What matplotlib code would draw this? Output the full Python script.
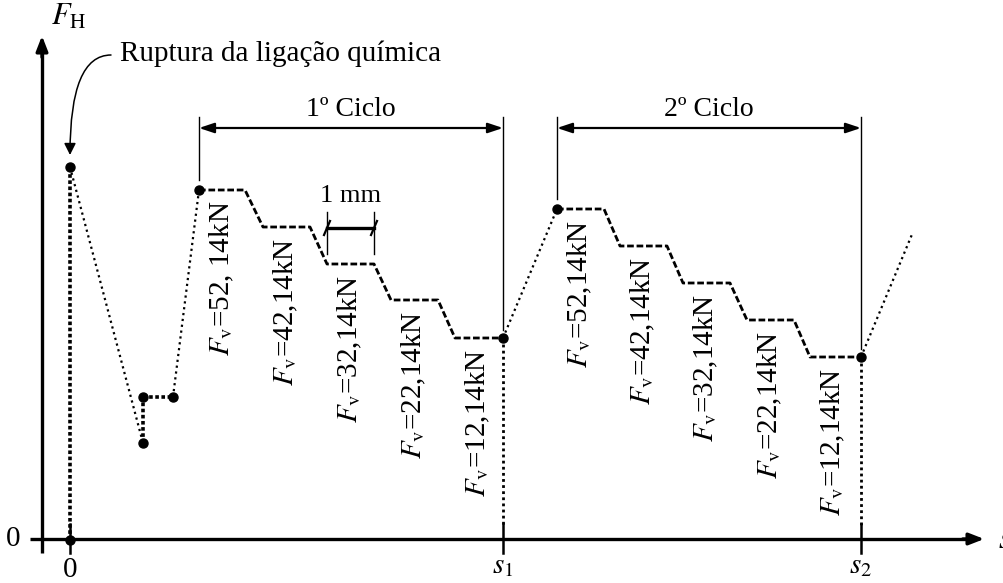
import matplotlib
matplotlib.use("Agg")
import matplotlib.pyplot as plt
from matplotlib.patches import FancyArrowPatch

plt.rcParams['font.family'] = ['Liberation Serif', 'DejaVu Serif']
plt.rcParams['mathtext.fontset'] = 'stix'

# ---- data (diagram coordinates: x = displacement, y = force, pixel-like units) ----
origin = (70, 540)
peak = (70, 167)
drop = (143, 443)
recover = [(143, 443), (143, 397), (173, 397)]
rise1 = [(173, 397), (199, 190)]

cycle1_x = [199, 245, 263, 310, 327, 374, 391, 438, 455, 503]
cycle1_y = [190, 190, 227, 227, 264, 264, 300, 300, 338, 338]
rise2 = [(503, 338), (557, 209)]
cycle2_x = [557, 604, 620, 667, 683, 730, 747, 794, 810, 861]
cycle2_y = [209, 209, 246, 246, 283, 283, 320, 320, 357, 357]
rise3 = [(861, 357), (913, 232)]

s1_x = 503
s2_x = 861

labels1 = ["52, 14kN", "42,14kN", "32,14kN", "22,14kN", "12,14kN"]
labels2 = ["52,14kN", "42,14kN", "32,14kN", "22,14kN", "12,14kN"]

# ---- figure ----
fig = plt.figure(figsize=(10.04, 5.83), dpi=100)
ax = fig.add_axes([0, 0, 1, 1])
ax.set_xlim(0, 1004)
ax.set_ylim(583, 0)
ax.set_axis_off()

FS = 20
dot_kw = dict(color='black', linestyle=':', linewidth=1.6)
thick_dot = dict(color='black', linestyle=(0, (1, 0.7)), linewidth=2.6)
dash_kw = dict(color='black', linestyle=(0, (2.4, 1.0)), linewidth=2.0)

# axes
ax.plot([42, 42], [553, 50], color='black', lw=2.4, solid_capstyle='butt')
ax.annotate('', xy=(42, 33), xytext=(42, 60),
            arrowprops=dict(arrowstyle='-|>,head_length=0.9,head_width=0.35', color='black', lw=2.4))
ax.plot([30, 970], [539, 539], color='black', lw=2.4, solid_capstyle='butt')
ax.annotate('', xy=(987, 539), xytext=(960, 539),
            arrowprops=dict(arrowstyle='-|>,head_length=0.9,head_width=0.35', color='black', lw=2.4))

# ticks
for tx in [origin[0], s1_x, s2_x]:
    ax.plot([tx, tx], [524, 553], color='black', lw=1.8)

ax.text(13, 539, '0', fontsize=FS + 1, ha='center', va='center')
ax.text(origin[0], 570, '0', fontsize=FS + 1, ha='center', va='center')
ax.text(s1_x, 579, r'$s_1$', fontsize=FS + 1, ha='center', va='bottom')
ax.text(s2_x, 579, r'$s_2$', fontsize=FS + 1, ha='center', va='bottom')
ax.text(998, 540, r'$s$', fontsize=FS + 2, ha='left', va='center')
ax.text(51, 17, r'$F_\mathrm{H}$', fontsize=FS + 2, ha='left', va='center')

# path
ax.plot([origin[0], peak[0]], [origin[1], peak[1]], **thick_dot)
ax.plot([peak[0], drop[0]], [peak[1], drop[1]], **dot_kw)
ax.plot([recover[0][0], recover[1][0]], [recover[0][1], recover[1][1]], **thick_dot)
ax.plot([recover[1][0], recover[2][0]], [recover[1][1], recover[2][1]], **thick_dot)
ax.plot([p[0] for p in rise1], [p[1] for p in rise1], **dot_kw)
ax.plot(cycle1_x, cycle1_y, **dash_kw)
ax.plot([s1_x, s1_x], [cycle1_y[-1], 525], color='black', linestyle=(0, (1, 1.2)), linewidth=2.0)
ax.plot([p[0] for p in rise2], [p[1] for p in rise2], **dot_kw)
ax.plot(cycle2_x, cycle2_y, **dash_kw)
ax.plot([s2_x, s2_x], [cycle2_y[-1], 525], color='black', linestyle=(0, (1, 1.2)), linewidth=2.0)
ax.plot([p[0] for p in rise3], [p[1] for p in rise3], **dot_kw)

# dots
dots = [origin, peak, drop, recover[1], recover[2], (cycle1_x[0], cycle1_y[0]),
        (cycle1_x[-1], cycle1_y[-1]), (cycle2_x[0], cycle2_y[0]), (cycle2_x[-1], cycle2_y[-1])]
ax.plot([d[0] for d in dots], [d[1] for d in dots], 'o', color='black', markersize=6.5, linestyle='none', zorder=5)

# annotation: chemical bond rupture
ax.text(120, 54, 'Ruptura da ligação química', fontsize=FS + 1, ha='left', va='center')
arr = FancyArrowPatch((111, 55), (70, 155), connectionstyle='angle3,angleA=180,angleB=90',
                      arrowstyle='-|>,head_length=7,head_width=3.5', color='black', lw=1.1,
                      shrinkA=0, shrinkB=0)
ax.add_patch(arr)

# cycle dimension lines
def dim(x0, x1, ytop, ybot0, ybot1, text):
    ax.plot([x0, x0], [ytop, ybot0], color='black', lw=1.0)
    ax.plot([x1, x1], [ytop, ybot1], color='black', lw=1.0)
    ax.annotate('', xy=(x0, 128), xytext=(x1, 128),
                arrowprops=dict(arrowstyle='<|-|>,head_length=0.9,head_width=0.3', color='black',
                                lw=1.6, shrinkA=0, shrinkB=0))
    ax.text((x0 + x1) / 2, 109, text, fontsize=FS, ha='center', va='center')

dim(cycle1_x[0], s1_x, 117, cycle1_y[0] - 10, cycle1_y[-1] - 8, '1º Ciclo')
dim(cycle2_x[0], s2_x, 117, cycle2_y[0] - 10, cycle2_y[-1] - 8, '2º Ciclo')

# 1 mm scale
mx0, mx1 = cycle1_x[4], cycle1_x[5]
ax.plot([mx0, mx0], [212, 254], color='black', lw=1.0)
ax.plot([mx1, mx1], [212, 254], color='black', lw=1.0)
ax.plot([mx0, mx1], [228, 228], color='black', lw=2.4)
for xx in (mx0, mx1):
    ax.plot([xx - 3, xx + 3], [235, 221], color='black', lw=1.6)
ax.text((mx0 + mx1) / 2, 196, '1 mm', fontsize=FS - 1, ha='center', va='center')

# rotated force labels
for i, lab in enumerate(labels1):
    xs = cycle1_x[2 * i] + 23
    ax.text(xs, cycle1_y[2 * i] + 11, r'$F_\mathrm{v}$=' + lab, fontsize=FS + 1,
            rotation=90, ha='center', va='top')
for i, lab in enumerate(labels2):
    xs = cycle2_x[2 * i] + 23
    ax.text(xs, cycle2_y[2 * i] + 11, r'$F_\mathrm{v}$=' + lab, fontsize=FS + 1,
            rotation=90, ha='center', va='top')

fig.savefig('out.png', dpi=100)
